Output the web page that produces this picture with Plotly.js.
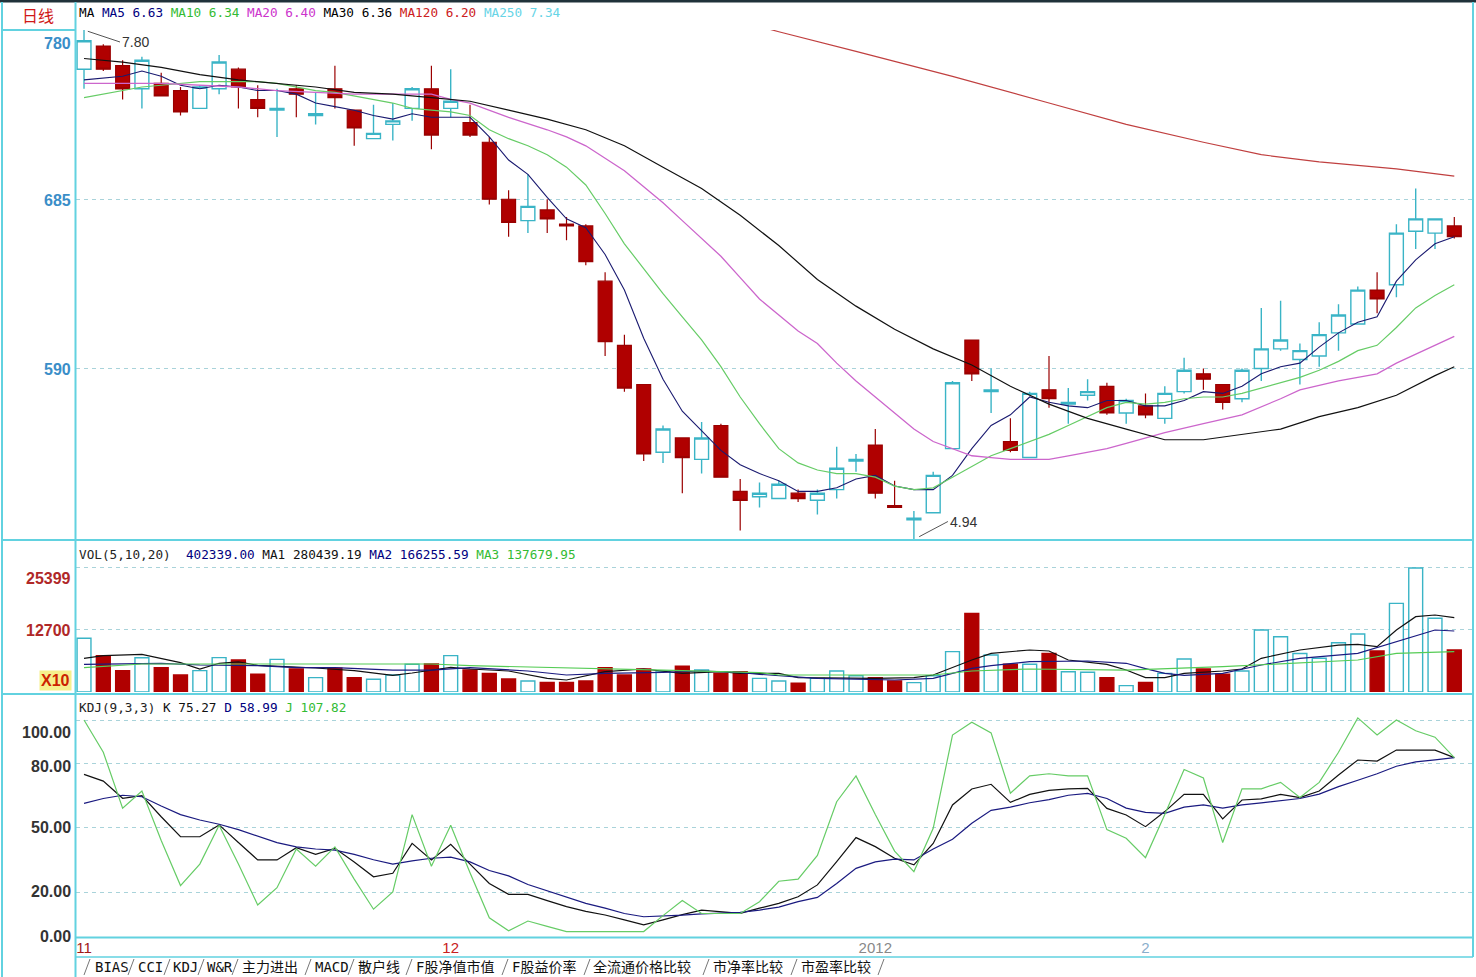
<!DOCTYPE html>
<html><head><meta charset="utf-8">
<script src="https://cdn.plot.ly/plotly-3.0.1.min.js"></script>
<style>html,body{margin:0;padding:0;background:#fff;overflow:hidden}#chart{width:1476px;height:977px}</style>
</head><body><div id="chart"></div>
<script>
// ===== DATA =====
const openP  = [7.58,7.71,7.60,7.47,7.50,7.46,7.36,7.47,7.58,7.41,
                7.35,7.47,7.32,7.47,7.35,7.19,7.27,7.36,7.47,7.36,
                7.28,7.17,6.85,6.73,6.79,6.71,6.70,6.39,6.03,5.81,
                5.43,5.51,5.39,5.58,5.21,5.18,5.17,5.20,5.16,5.22,
                5.38,5.47,5.13,5.05,5.09,5.45,6.06,5.77,5.49,5.40,
                5.78,5.70,5.75,5.80,5.65,5.69,5.62,5.77,5.87,5.81,
                5.73,5.90,6.01,5.95,5.97,6.10,6.15,6.34,6.37,6.67,
                6.66,6.70];
const highP  = [7.80,7.72,7.63,7.65,7.56,7.48,7.49,7.66,7.59,7.49,
                7.47,7.49,7.45,7.60,7.35,7.38,7.39,7.48,7.60,7.58,
                7.38,7.20,6.90,6.99,6.85,6.75,6.71,6.44,6.09,5.81,
                5.58,5.51,5.60,5.59,5.28,5.26,5.27,5.22,5.22,5.46,
                5.42,5.56,5.27,5.10,5.32,5.83,6.06,5.90,5.62,5.77,
                5.97,5.79,5.84,5.82,5.73,5.76,5.80,5.96,5.90,5.81,
                5.90,6.24,6.28,6.04,6.16,6.26,6.36,6.44,6.71,6.91,
                6.74,6.75];
const lowP   = [7.47,7.57,7.41,7.36,7.43,7.32,7.36,7.44,7.36,7.31,
                7.20,7.31,7.27,7.36,7.15,7.19,7.18,7.29,7.13,7.31,
                7.20,6.82,6.64,6.66,6.66,6.62,6.48,5.97,5.77,5.38,
                5.37,5.20,5.31,5.29,4.99,5.12,5.17,5.15,5.08,5.17,
                5.32,5.17,5.12,4.94,5.09,5.45,5.83,5.65,5.43,5.40,
                5.68,5.59,5.72,5.64,5.59,5.62,5.59,5.76,5.78,5.67,
                5.71,5.83,6.00,5.81,5.91,6.00,6.15,6.21,6.30,6.57,
                6.57,6.63];
const closeP = [7.74,7.58,7.47,7.63,7.43,7.34,7.48,7.62,7.48,7.36,
                7.36,7.44,7.33,7.42,7.25,7.22,7.29,7.47,7.21,7.40,
                7.21,6.85,6.72,6.81,6.74,6.70,6.50,6.05,5.79,5.42,
                5.56,5.40,5.51,5.29,5.16,5.20,5.25,5.17,5.20,5.34,
                5.39,5.20,5.12,5.06,5.30,5.82,5.87,5.78,5.44,5.76,
                5.73,5.71,5.77,5.65,5.72,5.64,5.76,5.89,5.84,5.71,
                5.89,6.01,6.06,6.00,6.09,6.20,6.34,6.29,6.66,6.74,
                6.74,6.64];
const volume = [11000,7440,4370,7000,4980,3480,4370,7030,6550,3620,
                6690,4710,2940,4850,2940,2600,3480,5670,5740,7440,
                4500,3820,2660,2250,1980,1980,2250,4980,3480,4710,
                4300,5260,4500,3820,4160,2800,2250,1780,2800,4300,
                3340,2940,2250,1910,3340,8260,16110,7580,5670,5670,
                7920,4160,4030,2940,1300,1980,3820,6760,4710,3620,
                4300,12700,11330,7900,6900,10100,11880,8400,18160,25399,
                15090,8600];
const ma5  = [7.52,7.53,7.54,7.57,7.54,7.49,7.47,7.49,7.48,7.46,
              7.46,7.44,7.39,7.37,7.35,7.32,7.30,7.33,7.31,7.31,
              7.31,7.20,7.07,6.99,6.86,6.74,6.69,6.54,6.34,6.07,
              5.84,5.66,5.55,5.44,5.36,5.31,5.27,5.21,5.21,5.23,
              5.28,5.30,5.24,5.22,5.22,5.30,5.45,5.58,5.64,5.74,
              5.71,5.69,5.68,5.72,5.72,5.69,5.69,5.72,5.77,5.76,
              5.80,5.87,5.91,5.93,6.02,6.10,6.16,6.19,6.39,6.51,
              6.60,6.64];
const ma10 = [7.42,7.44,7.46,7.48,7.49,7.50,7.51,7.51,7.51,7.51,
              7.50,7.48,7.46,7.45,7.43,7.41,7.39,7.36,7.35,7.34,
              7.32,7.24,7.19,7.15,7.10,7.03,6.93,6.77,6.60,6.46,
              6.32,6.19,6.06,5.91,5.74,5.59,5.45,5.37,5.33,5.31,
              5.31,5.29,5.24,5.22,5.23,5.29,5.35,5.41,5.45,5.49,
              5.53,5.58,5.63,5.68,5.71,5.70,5.71,5.73,5.74,5.74,
              5.76,5.79,5.82,5.85,5.89,5.94,6.00,6.03,6.13,6.24,
              6.31,6.37];
const ma20Idx = [0,4,8,10,12,14,18,19,20,22,24,25,26,28,29,30,31,32,33,34,
                 35,36,37,38,39,40,41,42,43,44,45,46,47,48,49,50,51,52,53,54,
                 56,58,60,62,63,65,67,68,69,70,71];
const ma20 = [7.50,7.50,7.48,7.46,7.45,7.44,7.44,7.41,7.39,7.31,7.24,7.20,7.15,7.01,6.92,6.83,6.73,6.63,6.53,6.41,
              6.29,6.20,6.11,6.04,5.93,5.83,5.74,5.65,5.56,5.49,5.45,5.41,5.40,5.39,5.39,5.39,5.41,5.43,5.45,5.48,
              5.54,5.59,5.64,5.73,5.78,5.83,5.87,5.93,5.98,6.03,6.08];
const ma30Idx = [0,2,4,6,8,10,12,14,16,18,20,22,24,26,28,30,32,34,36,38,40,42,44,46,48,50,52,54,56,58,60,62,64,66,68,70,71];
const ma30 = [7.64,7.62,7.59,7.55,7.52,7.50,7.48,7.45,7.44,7.42,7.40,7.35,7.30,7.24,7.15,7.03,6.91,6.76,6.59,6.40,
              6.25,6.12,6.01,5.92,5.80,5.70,5.62,5.56,5.50,5.50,5.53,5.56,5.63,5.68,5.75,5.86,5.91];
const ma120Idx = [35,36,40,45,50,54,58,61,64,68,71];
const ma120 = [7.82,7.79,7.68,7.54,7.39,7.27,7.17,7.10,7.06,7.02,6.98];

const volMa1Idx = [0,1,3,5,6,7,8,9,11,12,14,16,17,19,20,22,24,25,27,29,31,33,34,36,37,39,41,43,44,46,47,49,50,51,53,54,55,56,57,59,60,61,63,65,66,67,68,69,70,71];
const volMa1 = [6900,7440,7720,6000,4710,5880,6150,5470,5100,4920,4370,3420,3890,5060,4710,4300,2800,2460,4160,4710,3820,4160,3820,3820,2940,2800,2800,2940,3480,6550,7920,8600,8400,6550,5670,4500,2940,2940,3820,4300,4710,6900,8600,9620,9760,9280,12700,15430,15770,15220];
const volMa2Idx = [0,2,4,6,9,11,13,16,18,20,23,25,27,30,32,34,35,38,40,42,44,46,47,49,52,54,55,56,57,59,61,63,66,68,70,71];
const volMa2 = [5670,5800,5880,5530,5390,4980,4980,4500,4500,4980,4300,3480,3820,4030,4300,4030,3620,2800,2660,2460,2800,4850,5390,6210,6350,5880,4800,3800,3400,3820,5530,6900,7920,10300,12700,12490];
const volMa3Idx = [0,3,8,14,18,20,25,30,35,36,44,46,49,54,59,66,68,71];
const volMa3 = [5000,5730,5730,5730,5730,5400,4980,4500,3960,3480,3480,4300,4710,4500,5190,6550,7920,8260];

const kdjK = [74.7,71.6,63.6,64.8,55,45.7,45.7,51.2,43,34.9,
              34.9,40.6,37.5,40.3,34,27.1,28.7,42.6,34.9,42.2,
              33,24,18.9,18.9,16,13.2,11,9.3,7,4.7,
              7,9.5,11.6,11,10.1,12.5,14.7,17.8,23.3,34.1,
              45.3,41.1,35.7,32.6,42.6,60.5,67.9,70.1,61.7,65.4,
              67.3,68,68.2,58.9,55.8,50.4,57.4,65.4,65.4,54,
              62.8,63.3,65.4,63.9,67,74.4,81.4,80.9,86,86,
              86,82.5];
const kdjD = [61.2,63.5,65,64.3,60,56,53.5,51.5,49,46,
              43,41,40,39.5,37.5,35,33,34.5,35.7,36.2,
              34,30,27.5,23.5,20.5,17.5,14.7,12.5,10,8.5,
              8.7,9.2,9.8,10.1,10.5,11.6,13,15.5,17.5,24,
              31,34,35.3,34.9,40,44.5,52,58,59.5,61.5,
              63,65,65.9,63.5,59,57,56.6,59.5,60.5,59,
              60.5,61.5,62.5,63.5,65.5,69,72,75,78.5,80.5,
              81.5,82.5];
const kdjJ = [100,85,59,67,44,23,33,51,33,14,
              22,40,32,41,26,12,20,56,32,51,
              29,8,2,6.5,4,1.6,1.6,1.6,1.6,1.6,
              9,16,10,10,10,15.5,25,26,37,62,
              74,56,39,29.5,49.6,93,99,94,66,74,
              75,74,74,49,45,36,56,77,73,43,
              68,68,71,64,71,85,101,93,100,95,
              92,82.5];

const monthTickIdx = [0,19,41,55];
const monthTickLabels = ['11','12','2012','2'];
const priceTicks = [7.80,6.85,5.90];
const priceTickLabels = ['780','685','590'];
const volTicks = [25399,12700];
const kdjTicks = [100,80,50,20,0];
const kdjTickLabels = ['100.00','80.00','50.00','20.00','0.00'];
const tabLabels = ['BIAS','CCI','KDJ','W&R','主力进出','MACD','散户线','F股净值市值','F股益价率','全流通价格比较','市净率比较','市盈率比较'];
const maHeader = [['MA','#000'],['MA5 6.63','#000080'],['MA10 6.34','#33bb33'],['MA20 6.40','#cc33cc'],['MA30 6.36','#000'],['MA120 6.20','#cc2020'],['MA250 7.34','#66d4e6']];
const volHeader = [['VOL(5,10,20) ','#222'],['402339.00','#000080'],['MA1 280439.19','#111'],['MA2 166255.59','#000080'],['MA3 137679.95','#33bb33']];
const kdjHeader = [['KDJ(9,3,3)','#222'],['K 75.27','#111'],['D 58.99','#000080'],['J 107.82','#33bb33']];

// ===== LAYOUT HELPERS =====
const days = openP.map((_, i) => i);
const L = 76, R = 1473, T = 30, B = 937;
const px = x => (x - L) / (R - L);
const py = y => (B - y) / (B - T);
const CY = '#62d2e0', GRID = '#a9d3da';
const RED = '#b00000', UPC = '#3ab4c6';

const isUp = days.map(i => closeP[i] >= openP[i]);

const traces = [
  {type:'candlestick', x: days, open: openP, high: highP, low: lowP, close: closeP,
   xaxis:'x', yaxis:'y', whiskerwidth:0, hoverinfo:'skip',
   increasing:{line:{color:UPC, width:1.4}, fillcolor:'#ffffff'},
   decreasing:{line:{color:'#9a0000', width:1.2}, fillcolor:RED}},
  {type:'scatter', mode:'lines', x: days, y: ma5, line:{color:'#1a1a70', width:1.1}, yaxis:'y'},
  {type:'scatter', mode:'lines', x: days, y: ma10, line:{color:'#66cc66', width:1.2}, yaxis:'y'},
  {type:'scatter', mode:'lines', x: ma20Idx, y: ma20, line:{color:'#cc66cc', width:1.3}, yaxis:'y'},
  {type:'scatter', mode:'lines', x: ma30Idx, y: ma30, line:{color:'#111111', width:1.2}, yaxis:'y'},
  {type:'scatter', mode:'lines', x: ma120Idx, y: ma120, line:{color:'#c04040', width:1.2}, yaxis:'y'},
  {type:'bar', x: days, y: volume, yaxis:'y2', width:0.72,
   marker:{color: isUp.map(u => u ? '#ffffff' : RED), line:{color: isUp.map(u => u ? UPC : RED), width:1.4}}},
  {type:'scatter', mode:'lines', x: volMa1Idx, y: volMa1, line:{color:'#111111', width:1.2}, yaxis:'y2'},
  {type:'scatter', mode:'lines', x: volMa2Idx, y: volMa2, line:{color:'#1a1a80', width:1.2}, yaxis:'y2'},
  {type:'scatter', mode:'lines', x: volMa3Idx, y: volMa3, line:{color:'#55cc55', width:1.2}, yaxis:'y2'},
  {type:'scatter', mode:'lines', x: days, y: kdjK, line:{color:'#111111', width:1.2}, yaxis:'y3'},
  {type:'scatter', mode:'lines', x: days, y: kdjD, line:{color:'#1a1a80', width:1.2}, yaxis:'y3'},
  {type:'scatter', mode:'lines', x: days, y: kdjJ, line:{color:'#66cc66', width:1.2}, yaxis:'y3'}
];

const span = arr => arr.map(([t, c]) => `<span style="color:${c}">${t}</span>`).join(' ');
const monoFont = {family:'DejaVu Sans Mono, monospace', size:12.7};
const annotations = [];
function hdr(text, y) {
  annotations.push({xref:'paper', yref:'paper', x:px(77), y:py(y), xanchor:'left', yanchor:'middle',
    showarrow:false, text, font: monoFont});
}
hdr(span(maHeader), 13);
hdr(span(volHeader), 554);
hdr(span(kdjHeader), 707);
annotations.push({xref:'paper', yref:'paper', x:px(38), y:py(15), xanchor:'center', yanchor:'middle', showarrow:false,
  text:'日线', font:{family:'Noto Sans CJK SC', size:16, color:'#d01818'}});

const labFont = c => ({family:'Liberation Sans, Arial, sans-serif', size:16, color:c, weight:700});
priceTicks.forEach((v, k) => annotations.push({xref:'paper', yref:'y', x:0, y:v, xanchor:'right', yanchor:'middle',
  xshift:-3, yshift: k === 0 ? -13 : -1, showarrow:false, text: priceTickLabels[k], font: labFont('#3a8ec8')}));
volTicks.forEach((v, k) => annotations.push({xref:'paper', yref:'y2', x:0, y:v, xanchor:'right', yanchor:'middle',
  xshift:-3, yshift: k === 0 ? -11 : -1, showarrow:false, text: String(v), font: labFont('#b02828')}));
annotations.push({xref:'paper', yref:'y2', x:0, y:0, xanchor:'right', yanchor:'bottom', xshift:-4, yshift:1,
  showarrow:false, text:'X10', bgcolor:'#f6f08c', borderpad:1, font: labFont('#cc2200')});
kdjTicks.forEach((v, k) => annotations.push({xref:'paper', yref:'y3', x:0, y:v, xanchor:'right', yanchor:'middle',
  xshift:-3, yshift: k === 0 ? -13 : (k === 1 ? -4 : (k === 4 ? -2 : 0)), showarrow:false, text: kdjTickLabels[k],
  font: labFont('#333333')}));

// high / low markers
const hiIdx = highP.indexOf(Math.max(...highP));
const loIdx = lowP.indexOf(Math.min(...lowP));
annotations.push({x: hiIdx, y: highP[hiIdx], xref:'x', yref:'y', text: highP[hiIdx].toFixed(2), showarrow:true,
  arrowhead:0, arrowwidth:1, arrowcolor:'#555', ax:36, ay:12, xanchor:'left', standoff:4,
  font:{family:'Liberation Sans, Arial', size:14, color:'#333'}});
annotations.push({x: loIdx, y: lowP[loIdx], xref:'x', yref:'y', text: lowP[loIdx].toFixed(2), showarrow:true,
  arrowhead:0, arrowwidth:1, arrowcolor:'#555', ax:34, ay:-18, xanchor:'left', standoff:6,
  font:{family:'Liberation Sans, Arial', size:14, color:'#333'}});

// bottom tabs
const tabX = [93,136,171,205,240,313,356,414,510,591,711,799];
const slashX = [84,128,164,198,232,305,348,406,502,584,703,791,878];
tabLabels.forEach((t, k) => annotations.push({xref:'paper', yref:'paper', x:px(tabX[k]), y:py(967), xanchor:'left',
  yanchor:'middle', showarrow:false, text:t, font:{family:'DejaVu Sans Mono, Noto Sans CJK SC', size:14, color:'#111'}}));

const shapes = [];
const ln = (x0, y0, x1, y1, color, width) => shapes.push({type:'line', xref:'paper', yref:'paper',
  x0:px(x0), y0:py(y0), x1:px(x1), y1:py(y1), line:{color, width}, layer:'above'});
ln(0, 1, 1476, 1, '#20323a', 3);
ln(2, 2, 2, 977, CY, 2);
ln(75.5, 2, 75.5, 977, CY, 2);
ln(1473, 2, 1473, 957, CY, 2);
ln(2, 30, 75.5, 30, CY, 2);
ln(2, 540, 1473, 540, CY, 2);
ln(2, 694, 1473, 694, CY, 2);
ln(75.5, 937.5, 1473, 937.5, CY, 2);
ln(75.5, 957, 1473, 957, CY, 1.5);
slashX.forEach(x => ln(x, 975, x + 6, 959, '#777', 1));

const ticktext = monthTickLabels.map((t, k) =>
  `<span style="color:${['#a01818','#c82020','#888888','#8aaecc'][k]}">${t}</span>`);

const yBase = {showticklabels:false, showgrid:true, gridcolor:GRID, griddash:'4px,4px', gridwidth:1,
  zeroline:false, showline:false, ticks:'', fixedrange:true};
const layout = {
  width:1476, height:977, margin:{l:L, r:1476-R, t:T, b:977-B},
  paper_bgcolor:'#ffffff', plot_bgcolor:'#ffffff', showlegend:false, hovermode:false,
  boxgap:0.28, boxgroupgap:0, bargap:0,
  xaxis:{domain:[0,1], anchor:'y3', range:[-0.415, (R-84)/19.3], showgrid:false, zeroline:false, showline:false,
    ticks:'', tickvals: monthTickIdx, ticktext, tickfont:{family:'Liberation Sans, Arial', size:15},
    rangeslider:{visible:false}, fixedrange:true},
  yaxis: Object.assign({}, yBase, {domain:[py(539.5), 1], range:[4.94, 7.80], tickvals: priceTicks}),
  yaxis2: Object.assign({}, yBase, {domain:[py(692), py(545)], range:[0, 30106], tickvals: volTicks}),
  yaxis3: Object.assign({}, yBase, {domain:[0, py(697)], range:[-0.93, 110.7], tickvals:[100,80,50,20]}),
  annotations, shapes
};
Plotly.newPlot('chart', traces, layout, {displayModeBar:false, staticPlot:true});
</script></body></html>
